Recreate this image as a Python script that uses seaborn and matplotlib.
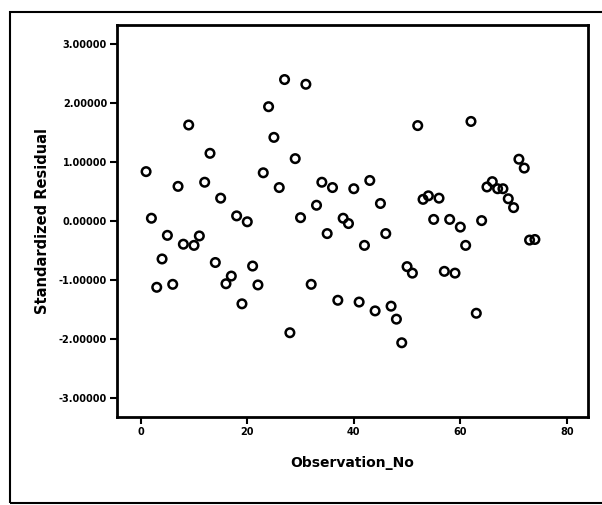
import numpy as np
import pandas as pd
import matplotlib
matplotlib.use("Agg")
import matplotlib.pyplot as plt
import seaborn as sns
from matplotlib.patches import Rectangle

# values (observation 1..74)
observation_no = list(range(1, 75))
std_residual = [
    0.84, 0.05, -1.12, -0.64, -0.24, -1.07, 0.59, -0.39, 1.63, -0.41,
    -0.25, 0.66, 1.15, -0.70, 0.39, -1.06, -0.93, 0.09, -1.40, -0.01,
    -0.76, -1.08, 0.82, 1.94, 1.42, 0.57, 2.40, -1.89, 1.06, 0.06,
    2.32, -1.07, 0.27, 0.66, -0.21, 0.57, -1.34, 0.05, -0.04, 0.55,
    -1.37, -0.41, 0.69, -1.52, 0.30, -0.21, -1.44, -1.66, -2.06, -0.77,
    -0.88, 1.62, 0.37, 0.43, 0.03, 0.39, -0.85, 0.03, -0.88, -0.10,
    -0.41, 1.69, -1.56, 0.01, 0.58, 0.67, 0.55, 0.55, 0.38, 0.23,
    1.05, 0.90, -0.32, -0.31,
]
x_ticks = [0, 20, 40, 60, 80]
y_ticks = [3, 2, 1, 0, -1, -2, -3]

df = pd.DataFrame({"Observation_No": observation_no,
                   "Standardized Residual": std_residual})

sns.set_style("white")
plt.rcParams['font.family'] = ['DejaVu Sans']
plt.rcParams['text.color'] = 'black'
plt.rcParams['axes.labelcolor'] = 'black'
plt.rcParams['xtick.color'] = 'black'
plt.rcParams['ytick.color'] = 'black'

fig = plt.figure(figsize=(6.02, 5.05), dpi=100)
ax = fig.add_axes([0.194, 0.174, 0.783, 0.776])

# outer chart frame
fig.patches.append(Rectangle((0.017, 0.004), 0.99, 0.972, transform=fig.transFigure,
                             fill=False, edgecolor="black", linewidth=1.5))

sns.scatterplot(data=df, x="Observation_No", y="Standardized Residual", ax=ax,
                marker="o", s=38, facecolor="none", edgecolor="black",
                linewidth=1.8)

ax.set_xlim(-4.5, 84)
ax.set_ylim(-3.32, 3.32)
ax.set_xticks(x_ticks)
ax.set_xticklabels([str(t) for t in x_ticks], fontsize=7, fontweight="bold")
ax.set_yticks(y_ticks)
ax.set_yticklabels([f"{t:.5f}" for t in y_ticks], fontsize=7, fontweight="bold")
ax.tick_params(axis="both", direction="out", length=5, width=1.5, pad=2,
               left=True, bottom=True, colors="black")
for sp in ax.spines.values():
    sp.set_linewidth(2)
    sp.set_color("black")

ax.set_xlabel("Observation_No", fontsize=10, fontweight="bold", labelpad=14)
ax.set_ylabel("Standardized Residual", fontsize=10.5, fontweight="bold", labelpad=6)

fig.savefig("out.png", dpi=100)
